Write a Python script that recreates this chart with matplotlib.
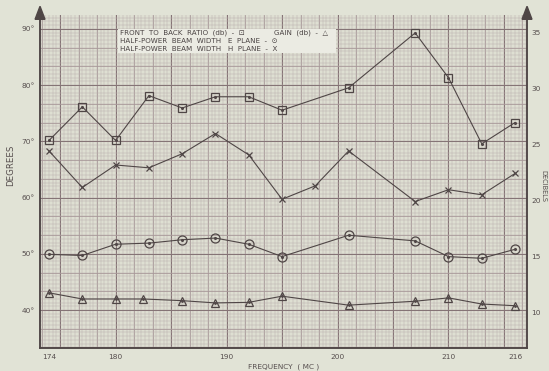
import numpy as np
import matplotlib
matplotlib.use("Agg")
import matplotlib.pyplot as plt

# ---- data ----
f_fb = [174, 177, 180, 183, 186, 189, 192, 195, 201, 207, 210, 213, 216]
front_to_back_db = [25.4, 28.4, 25.4, 29.4, 28.3, 29.3, 29.3, 28.1, 30.1, 35.0, 31.0, 25.1, 27.0]

f_h = [174, 177, 180, 183, 186, 189, 192, 195, 198, 201, 207, 210, 213, 216]
h_plane_deg = [68.3, 61.8, 65.8, 65.3, 67.8, 71.4, 67.6, 59.7, 62.1, 68.3, 59.3, 61.4, 60.5, 64.3]

f_e = [174, 177, 180, 183, 186, 189, 192, 195, 201, 207, 210, 213, 216]
e_plane_deg = [49.9, 49.7, 51.7, 51.9, 52.5, 52.8, 51.7, 49.5, 53.3, 52.3, 49.5, 49.2, 50.8]

f_g = [174, 177, 180, 182.5, 186, 189, 192, 195, 201, 207, 210, 213, 216]
gain_db = [11.8, 11.25, 11.25, 11.25, 11.1, 10.9, 10.95, 11.5, 10.7, 11.05, 11.35, 10.8, 10.65]

x_ticks = [174, 180, 190, 200, 210, 216]
left_ticks = [40, 50, 60, 70, 80, 90]
left_labels = ["40°", "50°", "60°", "70°", "80°", "90°"]
right_ticks = [10, 15, 20, 25, 30, 35]
right_labels = ["10", "15", "20", "25", "30", "35"]

# ---- style ----
BG = "#e1e3d6"
INK = "#4f4646"
TXT = "#564e4e"
FS = 5.3

fig = plt.figure(figsize=(5.49, 3.71), dpi=100, facecolor=BG)
ax = fig.add_axes([0.0729, 0.062, 0.8871, 0.8976])
ax.set_facecolor("#dedfd2")
ax2 = ax.twinx()

xlo, xhi = 173.19, 217.08
ylo, yhi = 33.24, 92.49
ax.set_xlim(xlo, xhi)
ax.set_ylim(ylo, yhi)
ax2.set_ylim(6.875, 36.6)

# graph-paper grid
for xv in np.arange(170, 220, 1/3):
    ax.axvline(xv, color="#bcafae", lw=0.35, zorder=0)
for xv in np.arange(170, 220, 5/3):
    ax.axvline(xv, color="#a79798", lw=0.55, zorder=0)
for xv in np.arange(170, 220, 5):
    ax.axvline(xv, color="#857476", lw=0.75, zorder=0)
for yv in np.arange(30, 95, 2/3):
    ax.axhline(yv, color="#bcafae", lw=0.35, zorder=0)
for yv in np.arange(30, 95, 10/3):
    ax.axhline(yv, color="#a79798", lw=0.55, zorder=0)
for yv in np.arange(30, 95, 10):
    ax.axhline(yv, color="#857476", lw=0.75, zorder=0)

lw = 0.8
# H-plane (x markers)
ax.plot(f_h, h_plane_deg, color=INK, lw=lw, marker="x", ms=4.5, mew=0.9, zorder=3)
# E-plane (circles with centre dot)
ax.plot(f_e, e_plane_deg, color=INK, lw=lw, marker="o", ms=6.5, mfc="none", mec=INK, mew=0.9, zorder=3)
ax.plot(f_e, e_plane_deg, ls="none", marker="o", ms=1.2, color=INK, zorder=4)
# Front to back (squares with centre dot)
ax2.plot(f_fb, front_to_back_db, color=INK, lw=lw, marker="s", ms=6, mfc="none", mec=INK, mew=0.9, zorder=3)
ax2.plot(f_fb, front_to_back_db, ls="none", marker="o", ms=1.2, color=INK, zorder=4)
# Gain (triangles)
ax2.plot(f_g, gain_db, color=INK, lw=lw, marker="^", ms=6.3, mfc="none", mec=INK, mew=0.9, zorder=3)
ax2.plot(f_g, gain_db, ls="none", marker="o", ms=1.0, color=INK, zorder=4)

# ticks
ax.set_xticks(x_ticks)
ax.set_xticklabels([str(v) for v in x_ticks], fontsize=FS, color=TXT)
ax.set_yticks(left_ticks)
ax.set_yticklabels(left_labels, fontsize=FS, color=TXT)
ax2.set_yticks(right_ticks)
ax2.set_yticklabels(right_labels, fontsize=FS, color=TXT)
ax.tick_params(length=0, pad=4)
ax2.tick_params(length=0, pad=3)

for a in (ax, ax2):
    a.spines["top"].set_visible(False)
    for s in ("left", "right", "bottom"):
        a.spines[s].set_color(INK)
        a.spines[s].set_linewidth(1.1)

# axis arrows on top
for xf in (0.0729, 0.0729 + 0.8871):
    fig.add_artist(matplotlib.patches.FancyArrow(xf, 0.955, 0, 0.028, width=0.0008,
                   head_width=0.018, head_length=0.035, length_includes_head=True,
                   color=INK, transform=fig.transFigure))

ax.set_xlabel("FREQUENCY  ( MC )", fontsize=FS, color=TXT, labelpad=3)
fig.text(0.02, 0.555, "DEGREES", rotation=90, fontsize=6.2, color=TXT, ha="center", va="center")
fig.text(0.9905, 0.5, "DECIBELS", rotation=270, fontsize=4.8, color=TXT, ha="center", va="center")

# legend box
lx0, ly0 = 118 / 549, 1 - 53 / 371
fig.add_artist(matplotlib.patches.Rectangle((lx0, ly0), (336 - 118) / 549, 24 / 371,
               transform=fig.transFigure, facecolor="#ebebe3", edgecolor="none", zorder=5))
lines = ["FRONT  TO  BACK  RATIO  (db)  -  \u22a1",
         "HALF-POWER  BEAM  WIDTH   E  PLANE  -  \u2299",
         "HALF-POWER  BEAM  WIDTH   H  PLANE  -  X"]
for i, t in enumerate(lines):
    fig.text(120 / 549, 1 - (33 + 7.8 * i) / 371, t, fontsize=5.1, color="#4a4343",
             ha="left", va="center", zorder=6)
fig.text(274 / 549, 1 - 33 / 371, "GAIN  (db)  -  \u25b3", fontsize=5.1, color="#4a4343",
         ha="left", va="center", zorder=6)

fig.savefig("out.png", dpi=100, facecolor=BG)
